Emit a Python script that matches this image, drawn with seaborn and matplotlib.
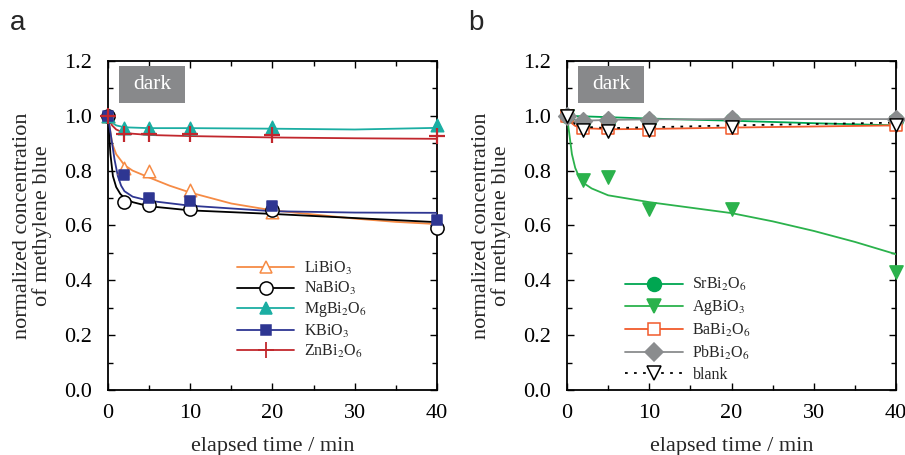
import numpy as np
import pandas as pd
import matplotlib
matplotlib.use("Agg")
import matplotlib.pyplot as plt
from matplotlib.lines import Line2D
from matplotlib.patches import Rectangle
from matplotlib.ticker import MultipleLocator
import seaborn as sns

# ---------------- data ----------------
t_pts = [0, 2, 5, 10, 20, 40]

# panel a measured points
li_pts = [1.00, 0.81, 0.80, 0.73, 0.65, 0.61]
na_pts = [1.00, 0.685, 0.675, 0.66, 0.655, 0.59]
mg_pts = [1.00, 0.955, 0.955, 0.955, 0.96, 0.965]
k_pts = [1.00, 0.785, 0.70, 0.69, 0.67, 0.62]
zn_pts = [1.00, 0.935, 0.935, 0.935, 0.93, 0.925]

# panel a fitted curves
li_ct = [0, 0.5, 1, 2, 3, 5, 7.5, 10, 15, 20, 25, 30, 35, 40]
li_cv = [1.00, 0.90, 0.86, 0.82, 0.80, 0.775, 0.745, 0.72, 0.68, 0.655, 0.64, 0.625, 0.613, 0.605]
na_ct = [0, 0.3, 0.6, 1, 1.5, 2, 3, 5, 10, 20, 30, 40]
na_cv = [1.00, 0.86, 0.78, 0.74, 0.715, 0.70, 0.685, 0.67, 0.655, 0.642, 0.627, 0.612]
k_ct = [0, 0.4, 0.8, 1.2, 1.6, 2, 3, 5, 10, 20, 30, 40]
k_cv = [1.00, 0.92, 0.84, 0.78, 0.745, 0.725, 0.705, 0.69, 0.672, 0.652, 0.647, 0.646]
mg_ct = [0, 0.5, 1, 2, 5, 10, 20, 30, 40]
mg_cv = [1.00, 0.975, 0.965, 0.958, 0.955, 0.955, 0.953, 0.950, 0.956]
zn_ct = [0, 0.5, 1, 2, 5, 10, 20, 30, 40]
zn_cv = [1.00, 0.965, 0.95, 0.937, 0.930, 0.926, 0.921, 0.918, 0.916]

# panel b measured points
sr_pts = [1.00, 0.978, 0.982, 0.982, 0.985, 0.985]
ag_pts = [1.00, 0.765, 0.775, 0.66, 0.66, 0.43]
ba_pts = [1.00, 0.955, 0.955, 0.95, 0.955, 0.965]
pb_pts = [1.00, 0.98, 0.985, 0.985, 0.99, 0.99]
blank_pts = [1.00, 0.95, 0.945, 0.95, 0.96, 0.965]

# panel b fitted curves
sr_ct = [0, 10, 20, 30, 40]
sr_cv = [1.00, 0.99, 0.982, 0.973, 0.965]
ag_ct = [0, 0.3, 0.6, 1, 1.5, 2, 3, 5, 10, 15, 20, 25, 30, 35, 40]
ag_cv = [1.00, 0.93, 0.86, 0.81, 0.775, 0.755, 0.735, 0.71, 0.685, 0.665, 0.645, 0.615, 0.58, 0.54, 0.495]
ba_ct = [0, 0.5, 1, 2, 5, 10, 20, 30, 40]
ba_cv = [1.00, 0.975, 0.963, 0.955, 0.951, 0.952, 0.957, 0.961, 0.965]
pb_ct = [0, 1, 2, 5, 10, 20, 30, 40]
pb_cv = [1.00, 0.985, 0.982, 0.985, 0.987, 0.988, 0.988, 0.988]
bl_ct = [0, 1, 2, 5, 10, 20, 30, 40]
bl_cv = [1.00, 0.97, 0.96, 0.955, 0.958, 0.965, 0.97, 0.975]

labels_a = ["LiBiO$_3$", "NaBiO$_3$", "MgBi$_2$O$_6$", "KBiO$_3$", "ZnBi$_2$O$_6$"]
labels_b = ["SrBi$_2$O$_6$", "AgBiO$_3$", "BaBi$_2$O$_6$", "PbBi$_2$O$_6$", "blank"]

x_ticks = [0, 10, 20, 30, 40]
y_ticks = [0.0, 0.2, 0.4, 0.6, 0.8, 1.0, 1.2]

# ---------------- style ----------------
sns.set_style("ticks")
plt.rcParams["font.family"] = ["Liberation Serif", "DejaVu Serif"]
plt.rcParams["mathtext.fontset"] = "stix"

fig = plt.figure(figsize=(9.05, 4.55), dpi=100)
axA = fig.add_axes([0.1193, 0.143, 0.3636, 0.723])
axB = fig.add_axes([0.6265, 0.143, 0.3636, 0.723])

series_a = [
    (li_pts, li_ct, li_cv, "#F68B45", "^", "none", 9, "-"),
    (na_pts, na_ct, na_cv, "#000000", "o", "none", 9.5, "-"),
    (mg_pts, mg_ct, mg_cv, "#1BAEA3", "^", "full", 9, "-"),
    (k_pts, k_ct, k_cv, "#2E3692", "s", "full", 7.5, "-"),
    (zn_pts, zn_ct, zn_cv, "#C1272D", "+", "full", 11, "-"),
]
series_b = [
    (sr_pts, sr_ct, sr_cv, "#00A651", "o", "full", 10, "-"),
    (ag_pts, ag_ct, ag_cv, "#2BB24C", "v", "full", 9.5, "-"),
    (ba_pts, ba_ct, ba_cv, "#F15A2B", "s", "none", 8.5, "-"),
    (pb_pts, pb_ct, pb_cv, "#8A8C8E", "D", "full", 9, "-"),
    (blank_pts, bl_ct, bl_cv, "#000000", "v", "none", 9.5, (0, (1.5, 3.5))),
]

FS = 16


def draw(ax, series, labels, leg_anchor, leg_spacing):
    handles = []
    for i, (pts, ct, cv, col, mk, fill, ms, ls) in enumerate(series):
        dcurve = pd.DataFrame({"t": ct, "c": cv})
        sns.lineplot(data=dcurve, x="t", y="c", ax=ax, color=col, lw=1.3,
                     linestyle=ls, sort=True, zorder=3 + i * 0.1)
        face = col if fill == "full" else "white"
        if mk == "+":
            ax.plot(t_pts, pts, linestyle="none", marker="+", color=col,
                    ms=ms, mew=1.6, zorder=5 + i * 0.1, clip_on=False)
        else:
            dp = pd.DataFrame({"t": t_pts, "c": pts})
            sns.scatterplot(data=dp, x="t", y="c", ax=ax, marker=mk,
                            s=ms ** 2, facecolor=face, edgecolor=col,
                            linewidth=1.1, zorder=5 + i * 0.1, clip_on=False)
        handles.append(Line2D([0], [0], color=col, lw=1.3, linestyle=ls,
                              marker=mk, ms=ms, mfc=(col if fill == "full" else "white"),
                              mec=col, mew=1.3 if mk == "+" else 1.1))
    ax.set_xlim(0, 40)
    ax.set_ylim(0, 1.2)
    ax.set_xticks(x_ticks)
    ax.set_yticks(y_ticks)
    ax.set_xticklabels([str(v) for v in x_ticks])
    ax.set_yticklabels([f"{v:.1f}" for v in y_ticks])
    ax.xaxis.set_minor_locator(MultipleLocator(5))
    ax.yaxis.set_minor_locator(MultipleLocator(0.1))
    ax.tick_params(which="both", direction="in", top=True, right=True,
                   labelsize=FS, width=1.0, colors="black")
    ax.tick_params(axis="x", pad=10)
    ax.tick_params(axis="y", pad=11.5)
    ax.tick_params(which="major", length=5)
    ax.tick_params(which="minor", length=3.5)
    for s in ax.spines.values():
        s.set_visible(True)
        s.set_linewidth(1.3)
        s.set_color("black")
    ax.set_xlabel("elapsed time / min", fontsize=FS, labelpad=10)
    ax.set_ylabel("normalized concentration\nof methylene blue", fontsize=FS,
                  linespacing=1.0, labelpad=9)
    ax.add_patch(Rectangle((1.35, 1.045), 8.0, 0.137, facecolor="#88898B",
                           edgecolor="none", zorder=2))
    ax.text(5.35, 1.113, "dark", color="white", fontsize=15.5, ha="center",
            va="center", zorder=3)
    leg = ax.legend(handles=handles, labels=labels, loc="upper left",
                    bbox_to_anchor=leg_anchor, frameon=False, fontsize=11.5,
                    handlelength=3.6, handletextpad=0.6,
                    labelspacing=leg_spacing, borderaxespad=0)
    return leg


draw(axA, series_a, labels_a, (0.372, 0.415), 0.2)
draw(axB, series_b, labels_b, (0.158, 0.365), 0.3)

fig.text(0.011, 0.935, "a", fontsize=20, family=["Liberation Sans", "DejaVu Sans"])
fig.text(0.517, 0.935, "b", fontsize=20, family=["Liberation Sans", "DejaVu Sans"])

fig.savefig("out.png", dpi=100)
